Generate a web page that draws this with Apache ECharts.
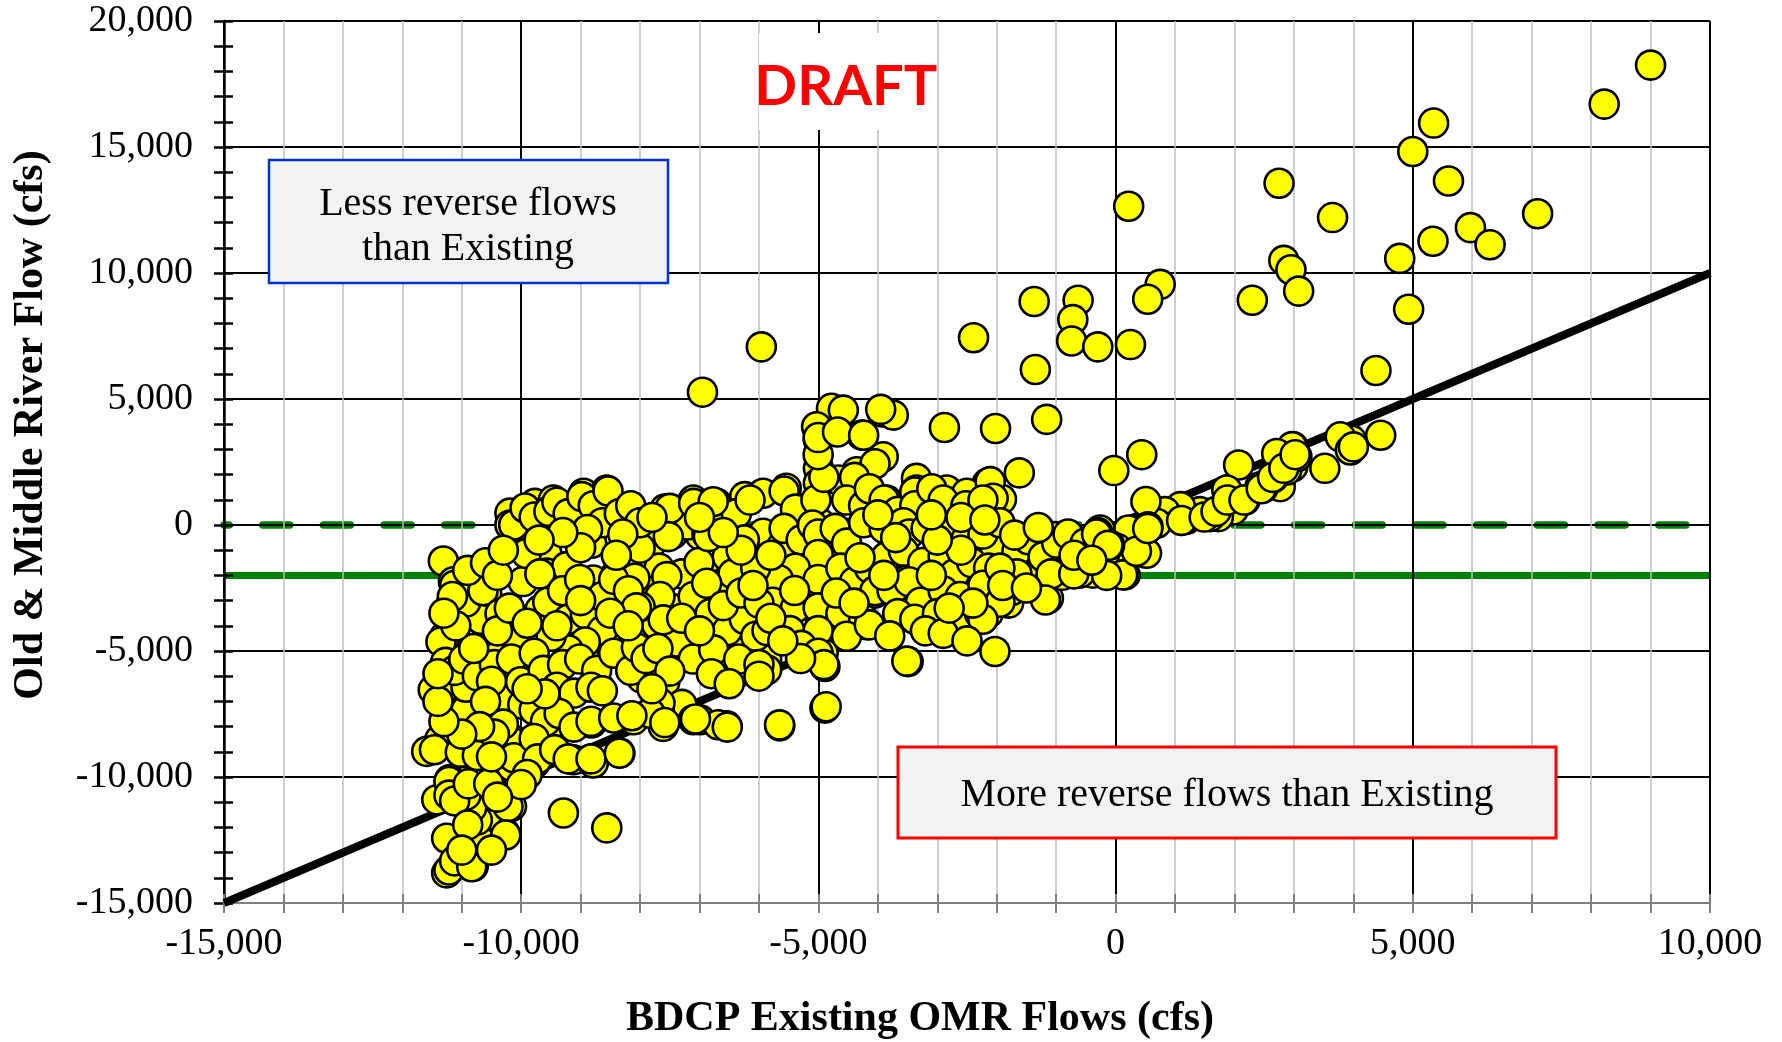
<!DOCTYPE html>
<html><head><meta charset="utf-8">
<script src="https://cdn.jsdelivr.net/npm/echarts@6/dist/echarts.min.js"></script>
<style>html,body{margin:0;padding:0;background:#fff}#c{width:1782px;height:1042px}</style>
</head><body><div id="c"></div>
<script>
const xTickLabels = ['-15,000','-10,000','-5,000','0','5,000','10,000'];
const yTickLabels = ['-15,000','-10,000','-5,000','0','5,000','10,000','15,000','20,000'];
const xTitle = 'BDCP Existing OMR Flows (cfs)';
const yTitle = 'Old & Middle River Flow (cfs)';
const lessBoxLines = ['Less reverse flows', 'than Existing'];
const moreBoxText = 'More reverse flows than Existing';
const draftText = 'DRAFT';
const oneToOneLine = [[-15000, -15000], [10000, 10000]];
const zeroLine = [[-15000, 0], [10000, 0]];
const minus2000Line = [[-15000, -2000], [10000, -2000]];

// [BDCP Existing OMR flow, Old & Middle River flow] pairs (cfs)
const omrPoints = [
[9000,18250],[8220,16700],[5350,15950],[5000,14820],[5600,13650],[2750,13560],[3650,12200],[7100,12350],[220,12650],[5970,11800],[6300,11120],[5340,11260],[2830,10500],[2950,10130],[4780,10580],[3080,9280],[2300,8920],[4930,8560],[750,9550],[540,8960],[-1370,8870],[-630,8920],[-720,8150],[-740,7300],[-300,7070],[250,7160],[-2390,7430],[-5960,7070],[-1350,6170],[4380,6130],[-6950,5270],[-1160,4190],[-2020,3830],[-2880,3870],[-1620,2070],[-30,2160],[440,2790],[4460,3560],[3520,2250],[-2160,1650],[-1920,1020],
[3970,3370],[3780,3500],[3950,2975],[2990,3100],[2980,2310],[2770,1520],[2070,2380],[2180,990],[2480,1470],[2650,1870],[2880,2180],[2970,3110],[3050,2710],[2710,2840],[2430,1520],[1980,600],[1870,1390],[1730,330],[1590,330],[1420,530],[1190,230],[1090,730],[830,530],[690,70],[470,-130],[510,930],[545,-70],[520,-1120],[215,-200],[20,-920],[160,-1980],[-180,-1120],[-260,-200],[-380,-1910],[-490,-660],[-600,-1910],[-820,-400],[-1020,-460],[-1160,-1120],[-1130,-2905],[-1550,-1780],[-1670,-990],[-1800,-3100],[-2140,-3500],[-2170,-2180],[-2280,-1120],[1110,180],[1490,315],[1690,540],[1880,990],[2160,990],[2450,1440],[2640,1890],[2830,2250],[3020,2790],[4000,3100],
[118,-1980],[350,-1040],[540,-140],[-1350,-2000],[-900,-2000],[-150,-2000],[-500,-700],[-300,-300],[-100,-800],[-2330,-2300],
[-4780,4630],[-4580,4560],[-5000,3370],[-5030,3900],[-4270,3570],[-3935,4490],[-3740,4360],[-3910,2710],[-5000,2250],[-5000,1655],[-4355,2115],[-4665,1785],[-3350,1850],[-3350,1390],[-3850,990],[-4080,860],[-2840,1390],[-2505,1260],[-2110,1720],[-2060,1060],[-5540,1460],[-6240,1125],[-6710,860],[-5930,1260],[-6990,-400],[-5930,-330],[-5620,-860],[-5370,660],[-4970,70],[-5000,-990],[-5000,-2310],[-4970,-3240],[-4550,-330],[-4380,-2245],[-4050,-2705],[-3460,-65],[-3515,-2180],[-3350,-3240],[-2840,-590],[-2820,-2840],[-2200,-2180],[-2030,-860],[-6685,-2050],[-6380,-2180],[-5650,-2180],[-6545,-2840],[-6880,-1385],
[-6990,-7730],[-6540,-7970],[-5650,-7970],[-4890,-7265],[-3490,-5420],[-2030,-5020],[-5870,-5350],[-5870,-5745],[-5000,-3500],[-4890,-5614],[-4920,-5085],[-4190,-3960],[-3400,-3370],[-2675,-4090],[-6430,-4890],
[-5577,1350],[-5386,630],[-5042,990],[-4908,1890],[-5004,2790],[-5004,3470],[-4679,3690],[-4239,3560],[-3952,4590],[-4047,2430],[-4392,1890],[-4526,990],[-4239,765],[-4143,1440],[-5577,-135],[-5290,-590],[-5100,0],[-5004,-360],[-4717,-135],[-4526,-720],[-4239,90],[-5004,-1170],[-5386,-1710],[-5673,-2160],[-5004,-2160],[-4622,-1710],[-4392,-2250],[-4143,-1710],[-4047,-2610],[-5769,-3065],[-5386,-3290],[-5004,-3290],[-4622,-3515],[-4239,-3740],[-5482,-4190],[-5004,-4190],[-5290,-4775],[-5004,-5090],[-4908,-5540],[-4526,-4415],[-4143,-3965],
[-3895,990],[-3665,540],[-3379,1310],[-3379,765],[-3092,1440],[-2901,990],[-2519,765],[-2232,990],[-3895,-135],[-3570,90],[-3474,-360],[-3188,-135],[-2806,-360],[-2519,-585],[-2232,-360],[-3857,-1260],[-3570,-1035],[-3245,-1490],[-2901,-1260],[-2710,-1940],[-2423,-1490],[-2137,-1710],[-3761,-2610],[-3474,-2250],[-3283,-3065],[-2901,-2610],[-2615,-2840],[-2232,-2390],[-3665,-3515],[-3379,-3740],[-2997,-3515],[-2615,-3965],[-2290,-3515],[-3513,-5400],
[-1946,90],[-1660,-1035],[-1468,-585],[-1220,-1260],[-990,-720],[-800,-360],[-513,-720],[-321,-360],[-130,-810],[-1086,-1940],[-704,-1940],[-1660,-1940],[-1946,-1710],[-1755,-2610],[-1180,-2975],[-1946,-3065],[-2232,-3740],
[-7584,630],[-7106,990],[-6724,765],[-6380,450],[-6150,990],[-7450,-360],[-7202,0],[-6877,-360],[-6533,-1260],[-6246,-590],[-7833,-810],[-7680,-1710],[-7297,-1940],[-7010,-1490],[-6724,-2390],[-6437,-1940],[-6055,-1710],[-7756,-2610],[-7488,-3290],[-7106,-2840],[-6820,-3515],[-6533,-4190],[-6246,-3740],[-6055,-4415],[-7718,-3965],[-7393,-4640],[-7106,-5320],[-6762,-4955],[-6342,-5320],[-6000,-5540],[-6000,-6000],[-5864,-4190],[-7584,-6220],[-7297,-7120],[-7680,-7340],
[-11310,-1430],[-11140,-2250],[-10800,-3040],[-11170,-3080],[-10580,-2710],[-10190,470],[-10190,0],[-10020,-65],[-9770,860],[-9460,990],[-9320,660],[-8950,1260],[-8560,1390],[-9490,200],[-9830,400],[-8900,-130],[-8815,-725],[-8650,265],[-8340,600],[-8200,-200],[-8000,-920],[-8030,130],[-7500,660],[-7525,-460],[-7100,860],[-6850,-460],[-6770,925],[-9570,-1120],[-9570,-1910],[-9235,-1650],[-9970,-2245],[-8790,-2180],[-8394,-1910],[-8087,-2110],[-7550,-2050],[-7665,-2840],[-6880,-2310],[-9235,-2775],[-10860,-2700],[-9684,-3368],[-8000,-3240],[-8338,-2840],
[-11480,-6540],[-11370,-8520],[-11590,-8985],[-11200,-10100],[-11140,-10830],[-11110,-13350],[-11254,-13805],[-10806,-13543],[-10664,-12552],[-10276,-12220],[-10806,-11625],[-10163,-11165],[-10580,-10400],[-10163,-9580],[-11420,-10900],[-10920,-9050],[-10135,-8520],[-9768,-9445],[-9123,-9314],[-8787,-9445],[-8338,-9050],[-9290,-11430],[-8560,-12020],[-8110,-7730],[-7612,-7990],[-7665,-7066],[-7104,-7728],[-6687,-7925],[-8816,-7860],[-9347,-7795],[-9460,-7400],[-8674,-6472],[-7973,-6077],[-8535,-4688],[-9768,-5762],[-10244,-6868],[-10974,-7264],[-10974,-5614],[-10693,-5680],[-11283,-4425],[-9235,-3633],[-7610,-3765],[-7833,-7462],
[-11460,-8920],[-11216,-3520],[-11350,-4640],[-11273,-5450],[-11197,-6350],[-11216,-10180],[-11216,-10720],[-11254,-12430],[-11216,-13690],[-11120,-13330],[-10833,-13560],[-10700,-12520],[-10585,-11530],[-10738,-11710],[-10833,-11220],[-10929,-10720],[-11120,-10950],[-10890,-10270],[-10547,-10270],[-10222,-11170],[-10260,-12300],[-11025,-9010],[-10738,-9145],[-10164,-8600],[-10126,-9235],[-10356,-7570],[-10260,-6890],[-10929,-7340],[-10929,-6440],[-11120,-5770],[-10967,-5320],[-10738,-5990],[-10547,-4860],[-10451,-5540],[-10738,-4415],[-10681,-3740],[-10929,-3060],[-11120,-2390],[-11158,-2840],[-10642,-2610],[-10356,-3515],[-10069,-4415],[-10164,-5320],[-10011,-6220],[-9973,-7120],
[-10126,0],[-9935,675],[-9782,315],[-9534,540],[-9400,900],[-9209,450],[-8979,1125],[-8788,765],[-8540,1350],[-8635,90],[-8884,-180],[-8349,450],[-8157,765],[-8004,90],[-8291,-360],
[-9916,-1130],[-9686,-1940],[-9553,-3065],[-9304,-2610],[-9017,-2160],[-9209,-3740],[-8922,-3515],[-8635,-2840],[-8444,-2160],[-8196,-2610],[-8062,-3290],[-8349,-4415],[-8635,-4190],[-8922,-4640],[-9209,-4955],[-9496,-4415],[-9782,-5090],[-9630,-5770],[-9304,-5540],[-9017,-5320],[-8731,-5770],[-8444,-5090],[-8157,-5770],[-8062,-4865],[-9400,-6440],[-9113,-6670],[-8826,-6440],[-8635,-6580],[-9782,-7340],[-9591,-7790],[-9362,-7480],[-9113,-8020],[-8826,-7790],[-8444,-7660],[-8138,-7570],[-9782,-8470],[-9725,-9280],[-9438,-8920],[-9209,-9280],[-8826,-9280],[-8349,-9055],
[-7584,-7840],[-7068,-7700],[-6533,-8020],[-5654,-7930],[-4870,-7210],
[-10500,-6200],[-10300,-7900],[-10600,-7000],[-10450,-8300],[-10700,-8000],[-9600,-6700],[-9900,-6500],[-7900,-5300],[-7700,-4900],[-7500,-5800],[-7800,-6500],[-6800,-5900],[-6500,-6300],[-10900,-1800],[-10600,-1500],[-10400,-2000],[-3200,-4200],[-2900,-4300],[-3800,-4400],[-2500,-4600],
[-10400,-4200],[-10800,-4900],[-10200,-3300],[-9900,-3900],[-9400,-4000],[-9000,-3000],[-8500,-3500],[-8200,-4000],[-7300,-3700],[-7000,-4200],[-6600,-3200],[-6300,-2700],[-6000,-3100],[-6100,-2400],[-5800,-1200],[-6300,-1000],[-6600,-300],[-7000,300],[-7800,300],[-8400,-1200],[-9000,-900],[-9300,-300],[-9700,-600],[-10300,-1000],[-4700,-2700],[-4400,-3100],[-4300,-1300],[-3900,-2000],[-3100,-2000],[-2600,-1000],[-3000,-600],[-3700,-500],[-4000,400],[-3100,400],[-2600,300],[-2200,200],[-1700,-400],[-1300,-100],[-700,-1200],[-400,-1400],[-1900,-2400],[-1500,-2500],[-2400,-3100],[-2800,-3300],[-5400,-2600],[-5800,-3700],[-5300,-5300],[-5600,-4600],[-9900,-9900],[-10500,-9200],[-10000,-10300],[-10400,-10800],[-10900,-11900],[-11000,-12900],[-10500,-12900],[-11000,-8300],[-11300,-7800],[-11400,-7000],[-11400,-5900],[-11100,-4000],[-11300,-3500]
];

const X_MIN = -15000, X_MAX = 10000, Y_MIN = -15000, Y_MAX = 20000, STEP = 5000;
const serif = '"Liberation Serif", "Times New Roman", serif';

const chart = echarts.init(document.getElementById('c'), null, {renderer: 'canvas'});

const baseX = {type: 'value', min: X_MIN, max: X_MAX, interval: STEP, gridIndex: 0};
const baseY = {type: 'value', min: Y_MIN, max: Y_MAX, interval: STEP, gridIndex: 0};

chart.setOption({
  animation: false,
  backgroundColor: '#ffffff',
  grid: {left: 224, top: 21, width: 1486, height: 882, show: false},
  xAxis: [
    Object.assign({}, baseX, {
      position: 'bottom', z: 3,
      axisLine: {show: true, onZero: false, lineStyle: {color: '#808080', width: 2}},
      axisTick: {show: true, inside: false, length: 10, lineStyle: {color: '#808080', width: 2}},
      minorTick: {show: true, splitNumber: 5, length: 10, lineStyle: {color: '#808080', width: 2}},
      splitLine: {show: true, lineStyle: {color: '#000000', width: 2}},
      minorSplitLine: {show: true, lineStyle: {color: '#bfbfbf', width: 1.5}},
      axisLabel: {
        show: true, margin: 22, color: '#000', fontFamily: serif, fontSize: 38,
        showMinLabel: true, showMaxLabel: true,
        formatter: function (v) { return xTickLabels[Math.round((v - X_MIN) / STEP)]; }
      }
    }),
    Object.assign({}, baseX, {
      position: 'bottom', z: 3,
      axisLine: {show: false, onZero: false},
      axisTick: {show: true, inside: true, length: 9, lineStyle: {color: '#808080', width: 2}},
      minorTick: {show: true, splitNumber: 5, length: 9, lineStyle: {color: '#808080', width: 2}},
      splitLine: {show: false}, minorSplitLine: {show: false},
      axisLabel: {show: false}
    })
  ],
  yAxis: [
    Object.assign({}, baseY, {
      position: 'left', z: 3,
      axisLine: {show: true, onZero: false, lineStyle: {color: '#000', width: 2.5}},
      axisTick: {show: true, inside: false, length: 10, lineStyle: {color: '#000', width: 2.5}},
      minorTick: {show: true, splitNumber: 5, length: 10, lineStyle: {color: '#000', width: 2.5}},
      splitLine: {show: true, showMinLine: false, lineStyle: {color: '#000000', width: 2}},
      minorSplitLine: {show: false},
      axisLabel: {
        show: true, margin: 31, color: '#000', fontFamily: serif, fontSize: 38,
        showMinLabel: true, showMaxLabel: true,
        formatter: function (v) { return yTickLabels[Math.round((v - Y_MIN) / STEP)]; }
      }
    }),
    Object.assign({}, baseY, {
      position: 'left', z: 3,
      axisLine: {show: false, onZero: false},
      axisTick: {show: true, inside: true, length: 9, lineStyle: {color: '#000', width: 2.5}},
      minorTick: {show: true, splitNumber: 5, length: 9, lineStyle: {color: '#000', width: 2.5}},
      splitLine: {show: false}, minorSplitLine: {show: false},
      axisLabel: {show: false}
    })
  ],
  series: [
    {
      type: 'line', data: minus2000Line, xAxisIndex: 0, yAxisIndex: 0,
      symbol: 'none', silent: true, z: 2,
      lineStyle: {color: '#008000', width: 7}
    },
    {
      type: 'line', data: zeroLine, xAxisIndex: 0, yAxisIndex: 0,
      symbol: 'none', silent: true, z: 2,
      lineStyle: {color: '#008000', width: 7.5, type: [27, 33.7], dashOffset: 22, cap: 'round'}
    },
    {
      type: 'line', data: oneToOneLine, xAxisIndex: 0, yAxisIndex: 0,
      symbol: 'none', silent: true, z: 3,
      lineStyle: {color: '#000000', width: 8}
    },
    {
      type: 'scatter', data: omrPoints, xAxisIndex: 0, yAxisIndex: 0,
      symbol: 'circle', symbolSize: 29, z: 5, silent: true,
      itemStyle: {color: '#ffff00', borderColor: '#000000', borderWidth: 2.6, opacity: 1}
    }
  ],
  graphic: [
    {type: 'rect', z: 50, shape: {x: 759, y: 33, width: 178, height: 97}, style: {fill: '#ffffff'}},
    {type: 'text', z: 51, x: 846, y: 87, style: {text: draftText, font: 'bold 56px Lato, "Liberation Sans", sans-serif', fill: '#ff0000', textAlign: 'center', textVerticalAlign: 'middle'}},
    {type: 'rect', z: 50, shape: {x: 269, y: 160, width: 399, height: 123}, style: {fill: '#f2f2f2', stroke: '#0033cc', lineWidth: 2.5}},
    {type: 'text', z: 51, x: 468, y: 227, style: {text: lessBoxLines.join('\n'), font: '40px ' + serif, lineHeight: 45, fill: '#000', textAlign: 'center', textVerticalAlign: 'middle'}},
    {type: 'rect', z: 50, shape: {x: 898, y: 747, width: 658, height: 91}, style: {fill: '#f2f2f2', stroke: '#ff0000', lineWidth: 3}},
    {type: 'text', z: 51, x: 1227, y: 795, style: {text: moreBoxText, font: '40px ' + serif, fill: '#000', textAlign: 'center', textVerticalAlign: 'middle'}},
    {type: 'text', z: 51, x: 920, y: 1019, style: {text: xTitle, font: 'bold 42px ' + serif, fill: '#000', textAlign: 'center', textVerticalAlign: 'middle'}},
    {type: 'text', z: 51, x: 31, y: 425, rotation: Math.PI / 2, style: {text: yTitle, font: 'bold 42px ' + serif, fill: '#000', textAlign: 'center', textVerticalAlign: 'middle'}}
  ]
});
</script>
</body></html>
